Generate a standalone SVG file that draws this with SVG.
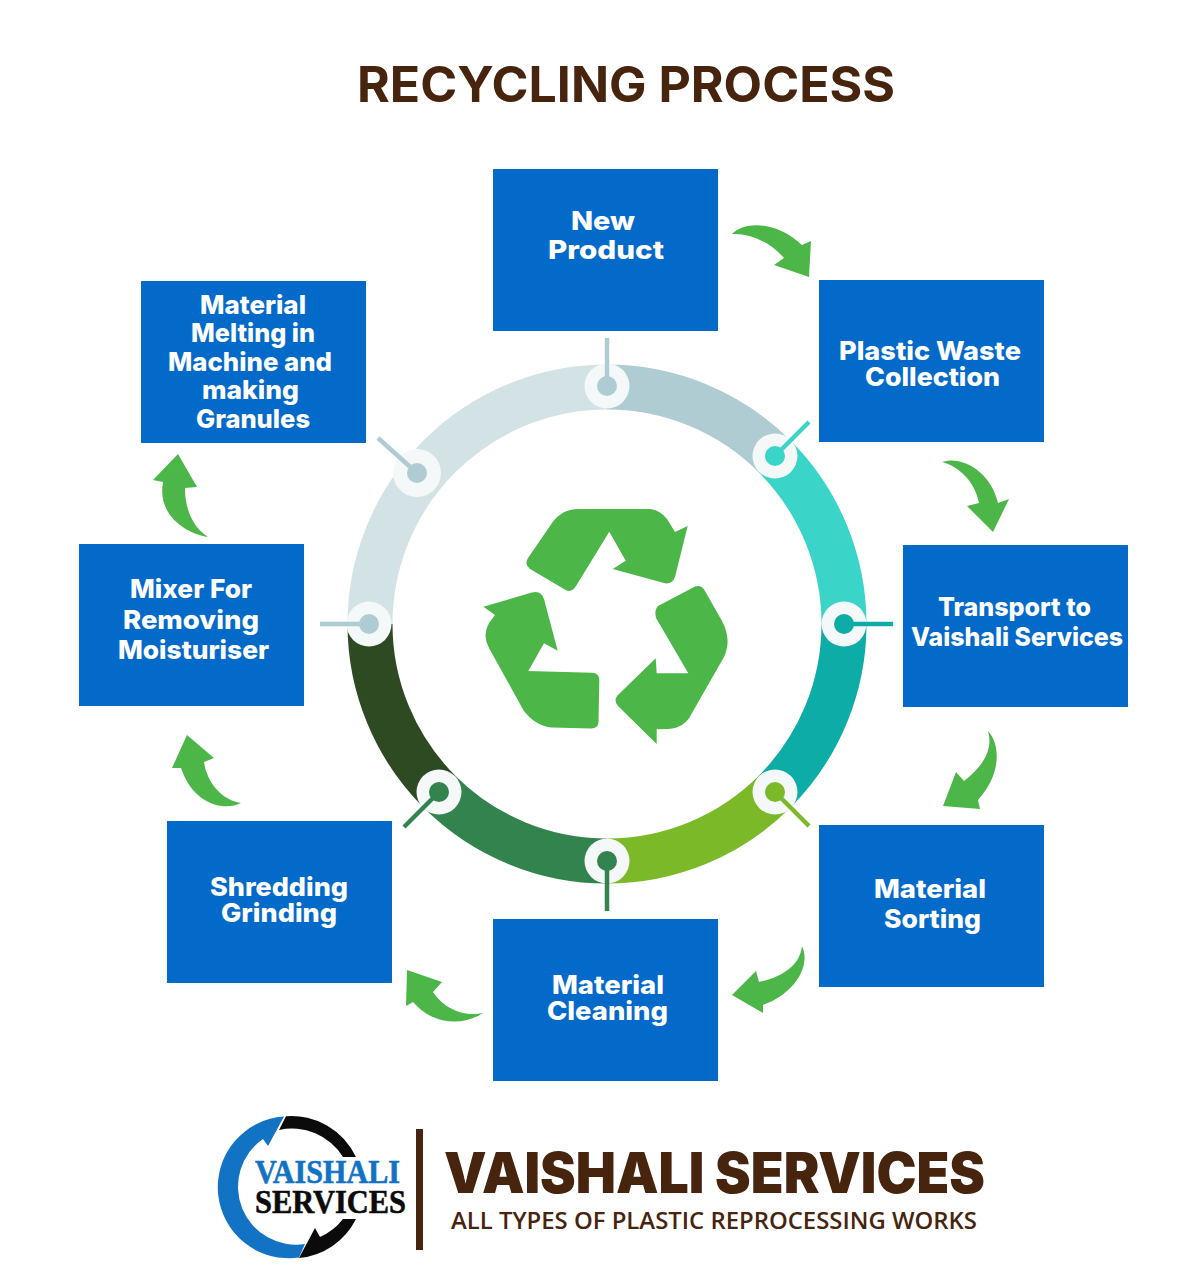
<svg xmlns="http://www.w3.org/2000/svg" width="1198" height="1280" viewBox="0 0 1198 1280">
<style>
.box{fill:#046aca}
.lbl{font-family:Inter,"Liberation Sans",sans-serif;font-weight:800;fill:#fff;font-size:26px}
.arr{fill:#4cb748}
.seg{fill:none;stroke-width:45}
.halo{fill:#f5f8f9}
.stem{stroke-width:4.5;fill:none}
.brown{fill:#47240e}
.serif{font-family:"Liberation Serif",serif;font-weight:700;font-size:34px;stroke-width:.6}
</style>
<rect width="1198" height="1280" fill="#fff"/>
<text id="title" class="brown" x="357" y="102" font-family="Inter,'Liberation Sans',sans-serif" font-weight="700" font-size="49" textLength="538" lengthAdjust="spacingAndGlyphs">RECYCLING PROCESS</text>

<g id="ring">
<path class="seg" stroke="#d3e3e5" d="M370,624A237,237 0 0 1 607,387"/>
<path class="seg" stroke="#b0ccd3" d="M607,387A237,237 0 0 1 774.6,456.4"/>
<path class="seg" stroke="#3ad4c8" d="M774.6,456.4A237,237 0 0 1 844,624"/>
<path class="seg" stroke="#0eaca6" d="M844,624A237,237 0 0 1 774.6,791.6"/>
<path class="seg" stroke="#7bb928" d="M774.6,791.6A237,237 0 0 1 607,861"/>
<path class="seg" stroke="#33834f" d="M607,861A237,237 0 0 1 439.4,791.6"/>
<path class="seg" stroke="#2d4a23" d="M439.4,791.6A237,237 0 0 1 370,624"/>
</g>

<g id="recycle-symbol" class="arr">
<path d="M528,558L552,523Q562,509 578,509L650,509Q660,510 667,519L675,532L687.7,526L675,577Q672,585 664,583L612.7,569L625.7,560.7L609.3,531.7L576,586Q571,594 564,589L530,569Q524,564 528,558Z"/>
<path d="M483.3,606.7L532,592.5Q541,590 544,599L557.7,650.7L544,643.3L528.3,671L592,672.7Q599.3,673 599.3,680L598.5,722Q598,728.5 591,728.5L551.7,727.5Q535,726 523.3,710L489,648Q482,635 489,623L495,615Z"/>
<path d="M658,606L694,587Q701,584 705,591L722,621Q732,640 724,657L692,713Q685,728 668,729L656.7,729.3L656.7,744L618,706Q613,700 618,695L655.7,658.3L656.7,673.3L688.3,673.3L656,618Q654,610 658,606Z"/>
</g>

<g id="connectors" class="arr">
<path d="M732,234C745,221 776,221 802,245L811,241L809,277L774,265L784,258C770,242 750,233 732,234Z"/>
<path d="M942,462C962,455 991,472 998,503L1009,499L993,532L967,506L979,503C975,482 960,467 942,462Z"/>
<path d="M988,731C1001,745 1001,775 978,800L980,809L943,806L956,772L964,781C985,765 993,748 988,731Z"/>
<path d="M802,946C811,965 796,993 763,1005L763,1013L732,995L756,971L759,982C783,977 800,965 802,946Z"/>
<path d="M483,1013C465,1025 435,1027 413,1002L406,1006L407,970L442,982L433,992C445,1010 465,1017 483,1013Z"/>
<path d="M241,803C225,811 194,806 181,768L172,768L187,735L214,758L204,762C207,783 222,800 241,803Z"/>
<path d="M208,537C185,533 157,515 163,482L153,480L178,454L197,487L185,488C185,510 193,527 208,537Z"/>
</g>

<g id="hub-new-product"><circle class="halo" cx="607" cy="386" r="22.5"/><path class="stem" stroke="#b0ccd3" d="M607,386V338"/><circle cx="607" cy="386" r="10" fill="#b0ccd3"/></g>
<g id="hub-plastic-waste"><circle class="halo" cx="775" cy="456" r="22.5"/><path class="stem" stroke="#3ad4c8" d="M775,456L809,422"/><circle cx="775" cy="456" r="10" fill="#3ad4c8"/></g>
<g id="hub-transport"><circle class="halo" cx="844" cy="624" r="22.5"/><path class="stem" stroke="#0eaca6" d="M844,624H893"/><circle cx="844" cy="624" r="10" fill="#0eaca6"/></g>
<g id="hub-sorting"><circle class="halo" cx="775" cy="792" r="22.5"/><path class="stem" stroke="#7bb928" d="M775,792L809,826"/><circle cx="775" cy="792" r="10" fill="#7bb928"/></g>
<g id="hub-cleaning"><circle class="halo" cx="607" cy="861" r="22.5"/><path class="stem" stroke="#33834f" d="M607,861V911"/><circle cx="607" cy="861" r="10" fill="#33834f"/></g>
<g id="hub-shredding"><circle class="halo" cx="439" cy="792" r="22.5"/><path class="stem" stroke="#33834f" d="M439,792L404,827"/><circle cx="439" cy="792" r="10" fill="#33834f"/></g>
<g id="hub-mixer"><circle class="halo" cx="369" cy="624" r="22.5"/><path class="stem" stroke="#b0ccd3" d="M369,624H320"/><circle cx="369" cy="624" r="10" fill="#b0ccd3"/></g>
<g id="hub-melting"><circle class="halo" cx="417" cy="473" r="24"/><path class="stem" stroke="#b0ccd3" d="M417,473L378,438"/><circle cx="417" cy="473" r="10" fill="#b0ccd3"/></g>

<g id="node-new-product"><rect class="box" x="493" y="169" width="225" height="162"/>
<text class="lbl" x="571" y="230" textLength="64" lengthAdjust="spacingAndGlyphs">New</text>
<text class="lbl" x="548" y="259" textLength="116" lengthAdjust="spacingAndGlyphs">Product</text></g>
<g id="node-plastic-waste"><rect class="box" x="819" y="280" width="225" height="162"/>
<text class="lbl" x="839" y="360" textLength="182" lengthAdjust="spacingAndGlyphs">Plastic Waste</text>
<text class="lbl" x="865" y="386" textLength="135" lengthAdjust="spacingAndGlyphs">Collection</text></g>
<g id="node-transport"><rect class="box" x="903" y="545" width="225" height="162"/>
<text class="lbl" x="938" y="616" textLength="153" lengthAdjust="spacingAndGlyphs">Transport to</text>
<text class="lbl" x="911" y="646" textLength="212" lengthAdjust="spacingAndGlyphs">Vaishali Services</text></g>
<g id="node-sorting"><rect class="box" x="819" y="825" width="225" height="162"/>
<text class="lbl" x="874" y="898" textLength="112" lengthAdjust="spacingAndGlyphs">Material</text>
<text class="lbl" x="884" y="928" textLength="97" lengthAdjust="spacingAndGlyphs">Sorting</text></g>
<g id="node-cleaning"><rect class="box" x="493" y="919" width="225" height="162"/>
<text class="lbl" x="552" y="994" textLength="112" lengthAdjust="spacingAndGlyphs">Material</text>
<text class="lbl" x="547" y="1020" textLength="121" lengthAdjust="spacingAndGlyphs">Cleaning</text></g>
<g id="node-shredding"><rect class="box" x="167" y="821" width="225" height="162"/>
<text class="lbl" x="210" y="896" textLength="138" lengthAdjust="spacingAndGlyphs">Shredding</text>
<text class="lbl" x="221" y="922" textLength="116" lengthAdjust="spacingAndGlyphs">Grinding</text></g>
<g id="node-mixer"><rect class="box" x="79" y="544" width="225" height="162"/>
<text class="lbl" x="130" y="598" textLength="122" lengthAdjust="spacingAndGlyphs">Mixer For</text>
<text class="lbl" x="123" y="629" textLength="136" lengthAdjust="spacingAndGlyphs">Removing</text>
<text class="lbl" x="118" y="659" textLength="151" lengthAdjust="spacingAndGlyphs">Moisturiser</text></g>
<g id="node-melting"><rect class="box" x="141" y="281" width="225" height="162"/>
<text class="lbl" x="200" y="314" textLength="106" lengthAdjust="spacingAndGlyphs">Material</text>
<text class="lbl" x="191" y="342" textLength="124" lengthAdjust="spacingAndGlyphs">Melting in</text>
<text class="lbl" x="168" y="371" textLength="164" lengthAdjust="spacingAndGlyphs">Machine and</text>
<text class="lbl" x="202" y="399" textLength="97" lengthAdjust="spacingAndGlyphs">making</text>
<text class="lbl" x="196" y="428" textLength="114" lengthAdjust="spacingAndGlyphs">Granules</text></g>

<g id="logo">
<path fill="#1272c4" d="M284,1116.4A71,71 0 1 0 299,1257.5L305,1244A58,58 0 0 1 263,1139L268,1146Z"/>
<path fill="#0b0b0b" d="M286,1116.2A71,71 0 0 1 356,1157L343,1157A60,60 0 0 0 279,1130Z"/>
<path fill="#0b0b0b" d="M356,1219A71,71 0 0 1 299,1258L315,1228L320,1237A60,60 0 0 0 343,1219Z"/>
<text class="serif" x="255" y="1183" fill="#1272c4" stroke="#1272c4" textLength="145" lengthAdjust="spacingAndGlyphs">VAISHALI</text>
<text class="serif" x="255" y="1213" fill="#0b0b0b" stroke="#0b0b0b" textLength="151" lengthAdjust="spacingAndGlyphs">SERVICES</text>
</g>
<rect id="divider" class="brown" x="416" y="1129" width="7" height="121"/>
<text id="brand" class="brown" x="444" y="1193" font-family="Inter,'Liberation Sans',sans-serif" font-weight="900" font-size="56" textLength="541" lengthAdjust="spacingAndGlyphs">VAISHALI SERVICES</text>
<text id="tagline" class="brown" x="451" y="1229" font-family="'Open Sans','Liberation Sans',sans-serif" font-weight="600" font-size="24" textLength="526" lengthAdjust="spacingAndGlyphs">ALL TYPES OF PLASTIC REPROCESSING WORKS</text>
</svg>
